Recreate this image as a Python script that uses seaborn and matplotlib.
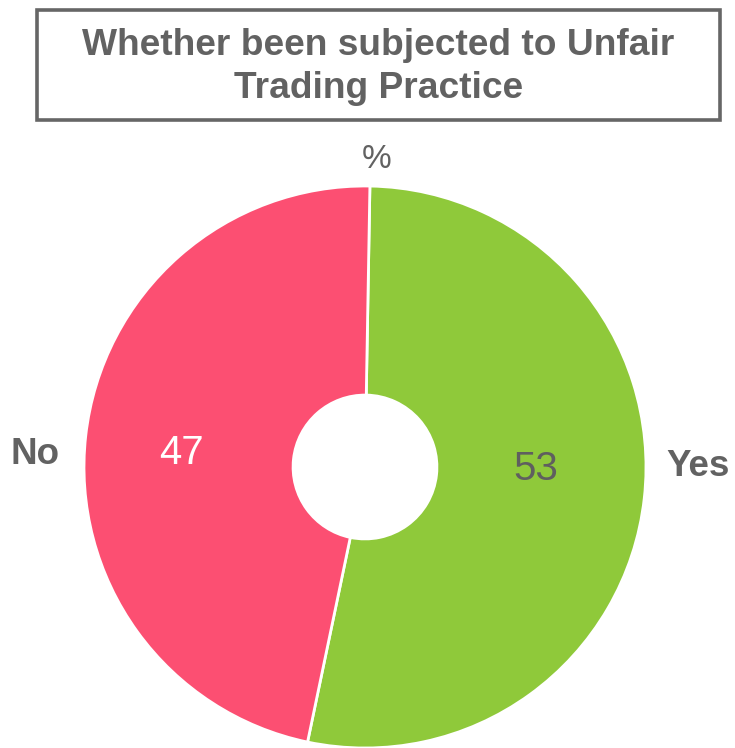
import matplotlib
matplotlib.use("Agg")
import matplotlib.pyplot as plt
import seaborn as sns
from matplotlib.patches import Rectangle

categories = ["Yes", "No"]
values = [53, 47]
colors = ["#8FC93A", "#FC4F72"]
value_colors = ["#5F5F5F", "#FFFFFF"]
title = "Whether been subjected to Unfair\nTrading Practice"
subtitle = "%"

sns.set_theme(style="white")
plt.rcParams["font.family"] = ["Liberation Sans", "DejaVu Sans"]
GRAY = "#626262"

W, H = 735, 748
fig = plt.figure(figsize=(W / 100, H / 100), dpi=100)
fig.patch.set_facecolor("white")

cx, cy, R = 365, 467, 281
ax = fig.add_axes([(cx - R) / W, (H - cy - R) / H, 2 * R / W, 2 * R / H])
wedges, _ = ax.pie(values, colors=colors, startangle=89, counterclock=False,
                   radius=1, wedgeprops=dict(width=0.744, edgecolor="white", linewidth=2))
ax.set_xlim(-1, 1)
ax.set_ylim(-1, 1)
ax.set_aspect("equal")
ax.axis("off")

val_pos = {"Yes": (0.609, -0.007), "No": (-0.655, 0.05)}
lab_pos = {"Yes": (1.185, 0.0), "No": (-1.174, 0.043)}
for cat, v, vc in zip(categories, values, value_colors):
    x, y = val_pos[cat]
    ax.text(x, y, str(v), ha="center", va="center", fontsize=29, color=vc)
    x, y = lab_pos[cat]
    ax.text(x, y, cat, ha="center", va="center", fontsize=26.5, color=GRAY,
            fontweight="bold", clip_on=False)

ax.text(0.043, 1.093, subtitle, ha="center", va="center", fontsize=24, color=GRAY, clip_on=False)

# title box
bx0, by0, bx1, by1 = 37, 10, 720, 120
fig.patches.append(Rectangle((bx0 / W, 1 - by1 / H), (bx1 - bx0) / W, (by1 - by0) / H,
                             transform=fig.transFigure, fill=False, edgecolor="#666666",
                             linewidth=2.6))
fig.text((bx0 + bx1) / 2 / W, 1 - 67 / H, title, ha="center", va="center",
         fontsize=26.7, fontweight="bold", color=GRAY, linespacing=1.3)

fig.savefig("out.png", dpi=100, facecolor="white")
